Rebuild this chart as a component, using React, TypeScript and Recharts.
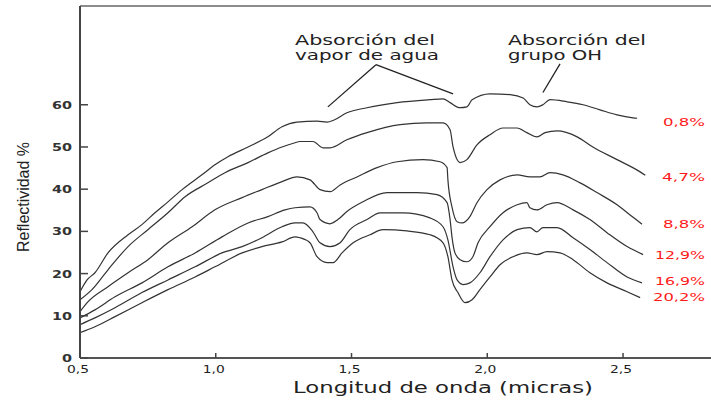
import React from "react";
import { LineChart, Line, XAxis, YAxis, ReferenceLine } from "recharts";

// Tick labels and series labels
const xTicks = [0.5, 1.0, 1.5, 2.0, 2.5];
const yTicks = [0, 10, 20, 30, 40, 50, 60];
const seriesLabels = ["0,8%", "4,7%", "8,8%", "12,9%", "16,9%", "20,2%"];

// [wavelength (micras), reflectance %]
const s08: [number, number][] = [
  [0.5, 15.7], [0.526, 18.5], [0.555, 20.2], [0.603, 24.9], [0.677, 29.2], [0.728, 31.6],
  [0.776, 34.4], [0.824, 37.0], [0.876, 39.9], [0.949, 43.4], [0.997, 45.8], [1.045, 47.7],
  [1.119, 50.0], [1.192, 52.4], [1.244, 54.8], [1.299, 55.9], [1.373, 56.1], [1.41, 55.9],
  [1.436, 56.4], [1.483, 58.1], [1.557, 59.3], [1.668, 60.5], [1.789, 61.2], [1.837, 61.4],
  [1.863, 60.5], [1.9, 59.3], [1.925, 59.5], [1.944, 61.2], [2.01, 62.6], [2.084, 62.4],
  [2.132, 61.6], [2.157, 60.0], [2.183, 59.5], [2.205, 60.0], [2.231, 61.2], [2.294, 60.7],
  [2.353, 60.0], [2.415, 58.8], [2.478, 57.6], [2.537, 56.9], [2.552, 56.8],
];
const s47: [number, number][] = [
  [0.5, 13.8], [0.544, 16.2], [0.603, 20.9], [0.677, 26.4], [0.75, 30.4], [0.824, 34.4],
  [0.887, 38.2], [0.971, 41.5], [1.034, 43.9], [1.119, 46.3], [1.192, 48.6], [1.244, 50.0],
  [1.292, 51.0], [1.31, 51.3], [1.358, 51.3], [1.395, 49.8], [1.421, 49.8], [1.483, 51.7],
  [1.557, 53.4], [1.679, 55.3], [1.778, 55.7], [1.837, 55.7], [1.863, 54.1], [1.874, 50.0],
  [1.9, 46.3], [1.925, 47.0], [1.962, 50.5], [2.01, 52.9], [2.058, 54.5], [2.11, 54.5],
  [2.146, 53.4], [2.183, 52.4], [2.213, 53.4], [2.257, 53.8], [2.331, 52.4], [2.389, 50.0],
  [2.478, 47.0], [2.563, 44.1], [2.582, 43.3],
];
const s88: [number, number][] = [
  [0.5, 11.0], [0.529, 13.3], [0.603, 16.9], [0.677, 20.2], [0.75, 23.3], [0.824, 27.3],
  [0.913, 31.1], [0.997, 35.1], [1.097, 38.0], [1.17, 39.9], [1.244, 41.8], [1.299, 42.9],
  [1.347, 42.2], [1.384, 39.9], [1.421, 39.4], [1.458, 41.0], [1.52, 42.9], [1.594, 45.1],
  [1.668, 46.5], [1.763, 47.0], [1.826, 46.5], [1.852, 45.1], [1.855, 42.2], [1.87, 35.8],
  [1.889, 32.3], [1.907, 32.0], [1.936, 33.5], [1.962, 36.8], [1.999, 39.9], [2.047, 42.2],
  [2.11, 43.4], [2.157, 42.9], [2.194, 42.9], [2.231, 43.9], [2.279, 43.4], [2.342, 41.5],
  [2.404, 39.2], [2.478, 36.3], [2.526, 33.9], [2.57, 31.7],
];
const s129: [number, number][] = [
  [0.5, 9.5], [0.555, 11.4], [0.629, 14.5], [0.728, 17.8], [0.824, 21.6], [0.924, 24.9],
  [1.023, 28.7], [1.119, 32.0], [1.192, 33.5], [1.255, 35.1], [1.292, 35.6], [1.347, 35.8],
  [1.373, 34.4], [1.384, 32.8], [1.421, 31.8], [1.45, 32.8], [1.483, 34.7], [1.542, 37.0],
  [1.631, 39.2], [1.741, 39.2], [1.815, 38.7], [1.852, 36.8], [1.863, 32.8], [1.87, 28.7],
  [1.881, 24.9], [1.9, 23.3], [1.925, 22.8], [1.947, 24.0], [1.966, 27.3], [2.01, 31.1],
  [2.058, 34.4], [2.11, 36.3], [2.146, 36.8], [2.157, 35.6], [2.183, 35.1], [2.22, 36.3],
  [2.257, 36.8], [2.316, 35.1], [2.378, 32.8], [2.441, 29.7], [2.515, 26.4], [2.574, 24.5],
];
const s169: [number, number][] = [
  [0.5, 7.9], [0.555, 9.5], [0.629, 11.9], [0.728, 15.5], [0.824, 18.5], [0.924, 21.6],
  [1.023, 24.9], [1.097, 26.4], [1.17, 28.5], [1.244, 31.1], [1.292, 32.0], [1.321, 32.0],
  [1.358, 29.9], [1.384, 27.3], [1.421, 26.4], [1.458, 27.3], [1.494, 30.4], [1.557, 32.8],
  [1.605, 34.4], [1.69, 34.4], [1.789, 33.2], [1.837, 31.1], [1.855, 28.0], [1.874, 21.6],
  [1.889, 18.5], [1.911, 17.4], [1.936, 17.8], [1.973, 20.2], [2.01, 24.0], [2.058, 28.0],
  [2.11, 30.4], [2.157, 30.9], [2.183, 29.9], [2.205, 30.9], [2.257, 30.9], [2.316, 28.5],
  [2.378, 25.7], [2.441, 22.6], [2.515, 19.2], [2.57, 17.8],
];
const s202: [number, number][] = [
  [0.5, 6.0], [0.555, 7.4], [0.629, 9.8], [0.728, 13.1], [0.824, 16.2], [0.924, 19.2],
  [0.997, 21.6], [1.097, 24.9], [1.17, 26.4], [1.244, 27.5], [1.292, 28.7], [1.31, 28.5],
  [1.347, 27.3], [1.373, 24.0], [1.41, 22.6], [1.432, 22.6], [1.465, 24.9], [1.506, 27.3],
  [1.568, 29.2], [1.616, 30.4], [1.704, 30.1], [1.789, 29.2], [1.837, 27.3], [1.855, 24.0],
  [1.87, 18.5], [1.892, 15.5], [1.918, 13.1], [1.944, 13.8], [1.973, 16.2], [2.01, 19.2],
  [2.047, 22.1], [2.095, 24.0], [2.146, 24.9], [2.183, 24.5], [2.22, 25.2], [2.268, 24.9],
  [2.316, 23.3], [2.378, 20.2], [2.441, 17.8], [2.515, 15.7], [2.563, 14.3],
];

const allSeries = [s08, s47, s88, s129, s169, s202];

const X_MIN = 0.5;
const X_MAX = 2.824;
const Y_MAX = 83.4;

const toPts = (arr: [number, number][]) => arr.map(([x, y]) => ({ x, y }));

const fmt = (v: number) => v.toFixed(1).replace(".", ",");

const XTick = (props: any) => {
  const { x, y, payload } = props;
  return (
    <g>
      <line x1={x} x2={x} y1={y - 5} y2={y} stroke="#444" strokeWidth={1.5} />
      <text
        x={x - 2}
        y={y + 15}
        textAnchor="middle"
        fontFamily="DejaVu Sans"
        fontSize={11}
        fill="#222"
        textLength={22}
        lengthAdjust="spacingAndGlyphs"
      >
        {fmt(payload.value)}
      </text>
    </g>
  );
};

const YTick = (props: any) => {
  const { x, y, payload } = props;
  const label = String(payload.value);
  return (
    <g>
      <line x1={x} x2={x + 8} y1={y} y2={y} stroke="#444" strokeWidth={1.5} />
      <text
        x={x - 8}
        y={y + 4}
        textAnchor="end"
        fontFamily="DejaVu Sans"
        fontWeight="bold"
        fontSize={11}
        fill="#333"
        textLength={label.length * 10}
        lengthAdjust="spacingAndGlyphs"
      >
        {label}
      </text>
    </g>
  );
};

const labelYs = [122, 177, 224, 255, 281, 297];
const labelLens = [42, 43, 42, 50, 50, 52];

export default function App() {
  return (
    <div style={{ position: "absolute", left: 0, top: 0, width: 711, height: 402, background: "#fff" }}>
      <LineChart width={711} height={402} margin={{ top: 6, right: 0, left: 0, bottom: 0 }}>
        <XAxis
          type="number"
          dataKey="x"
          domain={[X_MIN, X_MAX]}
          ticks={xTicks}
          allowDataOverflow
          height={44}
          tickSize={0}
          tickMargin={0}
          tick={<XTick />}
          tickLine={false}
          axisLine={{ stroke: "#555", strokeWidth: 2 }}
        />
        <YAxis
          type="number"
          dataKey="y"
          domain={[0, Y_MAX]}
          ticks={yTicks}
          allowDataOverflow
          width={80}
          tickSize={0}
          tickMargin={0}
          tick={<YTick />}
          tickLine={false}
          axisLine={{ stroke: "#444", strokeWidth: 2 }}
        />
        <ReferenceLine y={Y_MAX} stroke="#666" strokeWidth={1.5} />
        {allSeries.map((s, i) => (
          <Line
            key={i}
            data={toPts(s)}
            dataKey="y"
            type="monotone"
            stroke="#333"
            strokeWidth={1.2}
            dot={false}
            isAnimationActive={false}
          />
        ))}
        <ReferenceLine segment={[{ x: 1.59, y: 69.5 }, { x: 1.413, y: 59.5 }]} stroke="#222" strokeWidth={1.3} />
        <ReferenceLine segment={[{ x: 1.59, y: 69.5 }, { x: 1.874, y: 62.6 }]} stroke="#222" strokeWidth={1.3} />
        <ReferenceLine segment={[{ x: 2.268, y: 69.7 }, { x: 2.205, y: 62.9 }]} stroke="#222" strokeWidth={1.3} />
      </LineChart>
      <svg
        width={711}
        height={402}
        style={{ position: "absolute", left: 0, top: 0, pointerEvents: "none" }}
      >
        <text x={295} y={45} fontFamily="DejaVu Sans" fontSize={14} fill="#222" textLength={140} lengthAdjust="spacingAndGlyphs">
          Absorción del
        </text>
        <text x={295} y={60} fontFamily="DejaVu Sans" fontSize={14} fill="#222" textLength={144} lengthAdjust="spacingAndGlyphs">
          vapor de agua
        </text>
        <text x={508} y={45} fontFamily="DejaVu Sans" fontSize={14} fill="#222" textLength={138} lengthAdjust="spacingAndGlyphs">
          Absorción del
        </text>
        <text x={508} y={60} fontFamily="DejaVu Sans" fontSize={14} fill="#222" textLength={94} lengthAdjust="spacingAndGlyphs">
          grupo OH
        </text>
        <text x={443} y={393} textAnchor="middle" fontFamily="DejaVu Sans" fontSize={16} fill="#222" textLength={300} lengthAdjust="spacingAndGlyphs">
          Longitud de onda (micras)
        </text>
        <text
          x={29}
          y={197}
          textAnchor="middle"
          transform="rotate(-90 29 197)"
          fontFamily="Liberation Sans"
          fontSize={17}
          fill="#222"
          textLength={110}
          lengthAdjust="spacingAndGlyphs"
        >
          Reflectividad %
        </text>
        {seriesLabels.map((t, i) => (
          <text
            key={t}
            x={705}
            y={labelYs[i] + 4}
            textAnchor="end"
            fontFamily="DejaVu Sans"
            fontSize={11}
            fill="#ff1a1a"
            textLength={labelLens[i]}
            lengthAdjust="spacingAndGlyphs"
          >
            {t}
          </text>
        ))}
      </svg>
    </div>
  );
}
